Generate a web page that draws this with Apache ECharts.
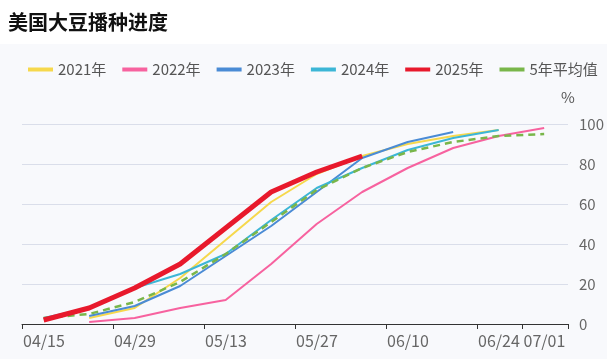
<!DOCTYPE html>
<html><head><meta charset="utf-8">
<script src="https://cdn.jsdelivr.net/npm/echarts@6/dist/echarts.min.js"></script>
<style>html,body{margin:0;padding:0;background:#fff;}#c{width:607px;height:359px;}</style>
</head><body><div id="c"></div>
<script>
// Week-ending dates (plotted on the 2021 calendar)
var weekDates = ['04/18','04/25','05/02','05/09','05/16','05/23','05/30','06/06','06/13','06/20','06/27','07/04'];
var axisStart = '04/15';
var axisEnd = '07/08';
var labelDates = ['04/15','04/29','05/13','05/27','06/10','06/24','07/01'];
var tickDates = ['04/15','04/29','05/13','05/27','06/10','06/24','07/01','07/08'];
var tzShiftDays = 8 / 24;

var s2021 = [null, 3, 8, 23, 42, 61, 75, 84, 90, 94, 97, null];
var s2022 = [null, 1, 3, 8, 12, 30, 50, 66, 78, 88, 94, 98];
var s2023 = [null, 4, 9, 19, 34, 49, 66, 83, 91, 96, null, null];
var s2024 = [3, 8, 18, 25, 35, 52, 68, 78, 87, 93, 97, null];
var s2025 = [2, 8, 18, 30, 48, 66, 76, 84, null, null, null, null];
var sAvg  = [3, 5, 11, 21, 35, 51, 67, 78, 86, 91, 94, 95];

function dayOf(md) {
  var p = md.split('/');
  return Date.UTC(2021, +p[0] - 1, +p[1]) / 86400000;
}
var d0 = dayOf(axisStart);
function off(md) { return dayOf(md) - d0; }
function fmt(d) {
  var t = new Date((d0 + Math.round(d)) * 86400000);
  var m = t.getUTCMonth() + 1, dd = t.getUTCDate();
  return (m < 10 ? '0' : '') + m + '/' + (dd < 10 ? '0' : '') + dd;
}
function pts(arr) {
  var out = [];
  arr.forEach(function (v, i) { if (v != null) out.push([off(weekDates[i]) + tzShiftDays, v]); });
  return out;
}

var chart = echarts.init(document.getElementById('c'));
var font = '"Noto Sans CJK SC", "Noto Sans", sans-serif';
function line(name, data, color, width, extra) {
  var s = {
    name: name, type: 'line', data: pts(data), symbol: 'none', smooth: false,
    lineStyle: { color: color, width: width }, itemStyle: { color: color }
  };
  if (extra) for (var k in extra) s[k] = extra[k];
  return s;
}
chart.setOption({
  backgroundColor: '#fff',
  textStyle: { fontFamily: font },
  graphic: [
    { type: 'rect', left: 0, top: 44, z: -10, shape: { width: 607, height: 315 }, style: { fill: '#f8f9fc' } },
    { type: 'text', x: 568, y: 97, z: 10, style: { text: '%', fill: '#555', font: '15px ' + font, textAlign: 'center', textVerticalAlign: 'middle' } }
  ],
  title: { text: '美国大豆播种进度', left: 3, top: 7, textStyle: { fontSize: 20, fontWeight: 'bold', color: '#111', fontFamily: font } },
  legend: {
    top: 57, left: 23, itemWidth: 25, itemHeight: 4, itemGap: 16,
    textStyle: { fontSize: 15, color: '#555', fontFamily: font },
    data: ['2021年', '2022年', '2023年', '2024年', '2025年', '5年平均值'].map(function (n) { return { name: n, icon: 'rect' }; })
  },
  grid: { left: 22, right: 39, top: 124, bottom: 35 },
  xAxis: {
    type: 'value', min: off(axisStart), max: off(axisEnd),
    splitLine: { show: false },
    axisLine: { lineStyle: { color: '#333', width: 1 } },
    axisTick: { show: true, length: 5, lineStyle: { color: '#333' }, customValues: tickDates.map(off) },
    axisLabel: { customValues: labelDates.map(off), formatter: function (v) { return fmt(v); }, color: '#666', fontSize: 16, margin: 9, align: 'left', padding: [0, 0, 0, 1], fontFamily: font }
  },
  yAxis: {
    type: 'value', min: 0, max: 100, interval: 20, position: 'right',
    axisLine: { show: false }, axisTick: { show: false },
    axisLabel: { color: '#666', fontSize: 15, margin: 11, fontFamily: font },
    splitLine: { lineStyle: { color: '#dadeea', width: 1 } }
  },
  series: [
    line('2021年', s2021, '#f6d84c', 2),
    line('2022年', s2022, '#f7629f', 2),
    line('2023年', s2023, '#4a8bd5', 2),
    line('2024年', s2024, '#3cb6d6', 2),
    line('5年平均值', sAvg, '#79b64a', 2.5, { lineStyle: { color: '#79b64a', width: 2.5, type: [7, 5] } }),
    line('2025年', s2025, '#e8192c', 5, { z: 5 })
  ]
});
</script></body></html>
